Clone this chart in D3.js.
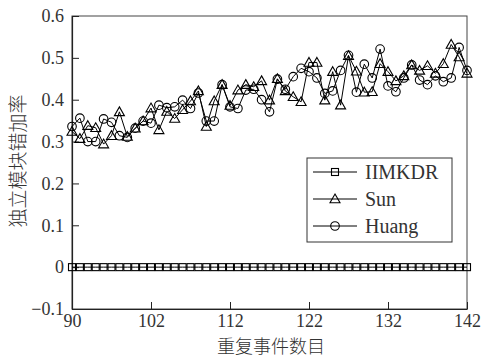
<!DOCTYPE html>
<html>
<head>
<meta charset="utf-8">
<script src="https://cdn.jsdelivr.net/npm/d3@7"></script>
<style>
  body { margin: 0; background: #fff; }
</style>
</head>
<body>
<div id="container"></div>
<script>
// repeated event count, 92..142
const events = d3.range(92, 143)

const hmkdr = events.map(() => 0)

const sun = [0.324, 0.307, 0.338, 0.333, 0.294, 0.314, 0.371, 0.312, 0.332, 0.349,
  0.380, 0.328, 0.372, 0.355, 0.376, 0.397, 0.421, 0.336, 0.397, 0.436,
  0.386, 0.423, 0.436, 0.431, 0.445, 0.399, 0.450, 0.421, 0.407, 0.395,
  0.489, 0.489, 0.399, 0.467, 0.387, 0.505, 0.468, 0.418, 0.419, 0.486,
  0.467, 0.445, 0.457, 0.483, 0.470, 0.481, 0.463, 0.486, 0.532, 0.502,
  0.463]

const huang = [0.336, 0.356, 0.300, 0.300, 0.354, 0.346, 0.314, 0.310, 0.332, 0.349,
  0.344, 0.387, 0.381, 0.383, 0.399, 0.379, 0.416, 0.349, 0.349, 0.436,
  0.383, 0.379, 0.423, 0.425, 0.400, 0.371, 0.449, 0.425, 0.455, 0.475,
  0.467, 0.452, 0.415, 0.421, 0.470, 0.506, 0.418, 0.485, 0.452, 0.521,
  0.433, 0.419, 0.452, 0.483, 0.447, 0.436, 0.457, 0.443, 0.452, 0.525,
  0.470]

const xTicks = [92, 102, 112, 122, 132, 142]
const xTickLabels = ['90', '102', '112', '122', '132', '142']
const yTicks = [-0.1, 0, 0.1, 0.2, 0.3, 0.4, 0.5, 0.6]
const yTickLabels = ['\u22120.1', '0', '0.1', '0.2', '0.3', '0.4', '0.5', '0.6']

const seriesNames = ['IIMKDR', 'Sun', 'Huang']
const seriesValues = [hmkdr, sun, huang]
const seriesMarkers = ['square', 'triangle', 'circle']

const serif = '"Liberation Serif", "DejaVu Serif", serif'
const cjk = '"Noto Sans CJK SC", sans-serif'
const textColor = '#333'

const width = 484
const height = 359
const plotLeft = 72, plotRight = 467, plotTop = 16, plotBottom = 309

const x = d3.scaleLinear().domain([92, 142]).range([plotLeft, plotRight])
const y = d3.scaleLinear().domain([-0.1, 0.6]).range([plotBottom, plotTop])

const svg = d3.select('#container').append('svg')
  .attr('width', width)
  .attr('height', height)

// frame
svg.append('rect')
  .attr('x', plotLeft).attr('y', plotTop)
  .attr('width', plotRight - plotLeft).attr('height', plotBottom - plotTop)
  .attr('fill', 'none').attr('stroke', '#444').attr('stroke-width', 1)

const xAxis = d3.axisBottom(x)
  .tickValues(xTicks)
  .tickFormat((d, i) => xTickLabels[i])
  .tickSizeInner(-7).tickSizeOuter(0).tickPadding(5)

const yAxis = d3.axisLeft(y)
  .tickValues(yTicks)
  .tickFormat((d, i) => yTickLabels[i])
  .tickSizeInner(-7).tickSizeOuter(0).tickPadding(8)

const gx = svg.append('g').attr('transform', `translate(0,${plotBottom})`).call(xAxis)
const gy = svg.append('g').attr('transform', `translate(${plotLeft},0)`).call(yAxis)

;[gx, gy].forEach(g => {
  g.selectAll('path').attr('stroke', '#222').attr('stroke-width', 1.2)
  g.selectAll('line').attr('stroke', '#222')
  g.selectAll('text')
    .style('font-family', serif)
    .style('font-size', '18px')
    .attr('fill', textColor)
})

function marker(g, type, cx, cy) {
  if (type === 'square') {
    g.append('rect').attr('x', cx - 3.5).attr('y', cy - 3.5)
      .attr('width', 7).attr('height', 7)
      .attr('fill', 'none').attr('stroke', '#000').attr('stroke-width', 1.1)
  } else if (type === 'triangle') {
    const r = 5
    g.append('path')
      .attr('d', `M${cx},${cy - r}L${cx + r},${cy + r * 0.75}L${cx - r},${cy + r * 0.75}Z`)
      .attr('fill', 'none').attr('stroke', '#000').attr('stroke-width', 1.1)
  } else {
    g.append('circle').attr('cx', cx).attr('cy', cy).attr('r', 4.3)
      .attr('fill', 'none').attr('stroke', '#000').attr('stroke-width', 1.1)
  }
}

const line = d3.line()
  .x((d, i) => x(events[i]))
  .y(d => y(d))

seriesValues.forEach((vals, s) => {
  const g = svg.append('g')
  g.append('path')
    .datum(vals)
    .attr('d', line)
    .attr('fill', 'none')
    .attr('stroke', '#000')
    .attr('stroke-width', 1)
  vals.forEach((v, i) => marker(g, seriesMarkers[s], x(events[i]), y(v)))
})

// legend
const lg = svg.append('g')
lg.append('rect')
  .attr('x', 307).attr('y', 158).attr('width', 145).attr('height', 84)
  .attr('fill', '#fff').attr('stroke', '#333').attr('stroke-width', 1)

seriesNames.forEach((name, s) => {
  const ly = 172 + s * 27
  lg.append('line')
    .attr('x1', 313).attr('x2', 357).attr('y1', ly).attr('y2', ly)
    .attr('stroke', '#000').attr('stroke-width', 1)
  marker(lg, seriesMarkers[s], 335, ly)
  lg.append('text')
    .attr('x', 365).attr('y', ly + 7)
    .style('font-family', serif)
    .style('font-size', '20px')
    .attr('fill', textColor)
    .text(name)
})

// axis titles
svg.append('text')
  .attr('x', 271).attr('y', 353)
  .attr('text-anchor', 'middle')
  .style('font-family', cjk)
  .style('font-size', '18px')
  .style('font-weight', 300)
  .attr('fill', textColor)
  .text('重复事件数目')

svg.append('text')
  .attr('transform', 'translate(25,161) rotate(-90)')
  .attr('text-anchor', 'middle')
  .style('font-family', cjk)
  .style('font-size', '19px')
  .style('font-weight', 300)
  .attr('fill', textColor)
  .text('独立模块错加率')
</script>
</body>
</html>
